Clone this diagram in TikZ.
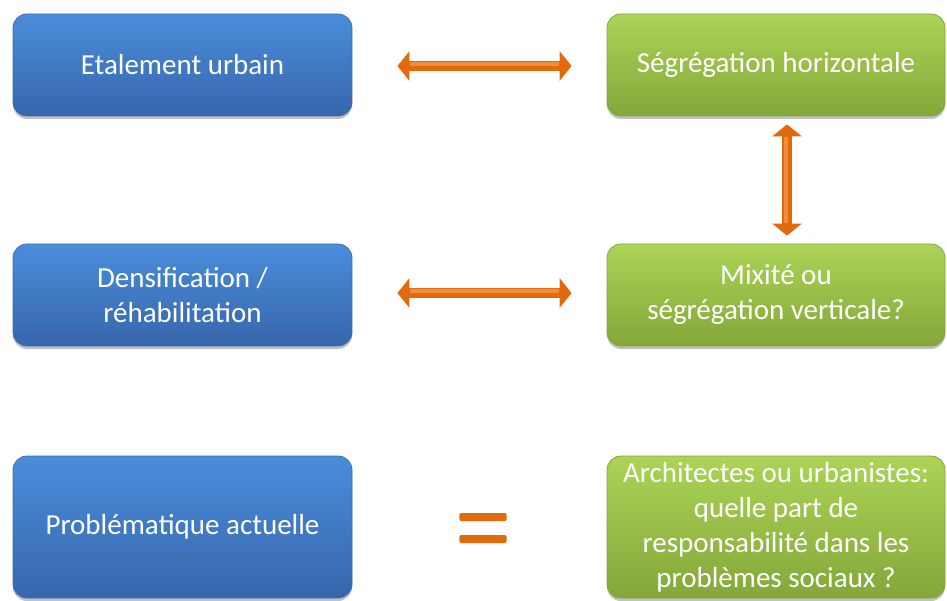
\documentclass[tikz,border=0pt]{standalone}
\usepackage{fontspec}
\setmainfont{Carlito}
\usetikzlibrary{arrows.meta,shadows}
\definecolor{bluetop}{RGB}{74,141,219}
\definecolor{bluebot}{RGB}{55,102,172}
\definecolor{blueedge}{RGB}{60,110,180}
\definecolor{greentop}{RGB}{172,212,86}
\definecolor{greenbot}{RGB}{132,167,58}
\definecolor{greenedge}{RGB}{130,165,60}
\definecolor{arrowc}{RGB}{226,106,12}
\definecolor{arrowhi}{RGB}{240,140,58}
\begin{document}
\begin{tikzpicture}[x=1pt,y=-1pt,
  box/.style={rounded corners=14pt, inner sep=0pt, text=white, align=center,
    font=\fontsize{29}{35}\selectfont, line width=0.8pt,
    drop shadow={shadow xshift=0pt, shadow yshift=-3pt, opacity=0.35, fill=black!70}},
  bluebox/.style={box, draw=blueedge, top color=bluetop, bottom color=bluebot, minimum width=339pt},
  greenbox/.style={box, draw=greenedge, top color=greentop, bottom color=greenbot, minimum width=338pt},
  dblarrow/.style={line width=10pt, draw=arrowc,
    {Triangle[width=29pt,length=12pt]}-{Triangle[width=29pt,length=12pt]}},
  hiline/.style={line width=4pt, draw=arrowhi},
  eqbar/.style={fill=arrowc, rounded corners=2pt}]
\useasboundingbox (0,0) rectangle (947,601);
\begin{scope}
\clip (0,0) rectangle (947,601);
\node[bluebox, minimum height=102pt] (b1) at (182.5,65) {Etalement urbain};
\node[bluebox, minimum height=102pt] (b2) at (182.5,295) {Densification /\\réhabilitation};
\node[bluebox, minimum height=142pt] (b3) at (182.5,527) {Problématique actuelle};
\node[greenbox, minimum height=102pt] (g1) at (776,65) {Ségrégation horizontale};
\node[greenbox, minimum height=102pt] (g2) at (776,295) {Mixité ou\\ségrégation verticale?};
\node[greenbox, minimum height=142pt] (g3) at (776,527) {Architectes ou urbanistes:\\quelle part de\\responsabilité dans les\\problèmes sociaux ?};
\end{scope}
% horizontal arrows
\draw[dblarrow] ([xshift=45pt,yshift=-1pt]b1.east) -- ([xshift=-35pt,yshift=-1pt]g1.west);
\draw[hiline] ([xshift=58pt,yshift=0.5pt]b1.east) -- ([xshift=-48pt,yshift=0.5pt]g1.west);
\draw[dblarrow] ([xshift=45pt,yshift=2pt]b2.east) -- ([xshift=-35pt,yshift=2pt]g2.west);
\draw[hiline] ([xshift=58pt,yshift=3.5pt]b2.east) -- ([xshift=-48pt,yshift=3.5pt]g2.west);
% vertical arrow
\draw[dblarrow] ([xshift=11pt,yshift=-8pt]g1.south) -- ([xshift=11pt,yshift=8pt]g2.north);
\draw[hiline] ([xshift=9.5pt,yshift=-21pt]g1.south) -- ([xshift=9.5pt,yshift=21pt]g2.north);
% equals sign
\node[minimum width=47pt, minimum height=30pt, inner sep=0pt] (eq) at (483,528) {};
\fill[eqbar] ([yshift=15pt]eq.west) rectangle ([yshift=7pt]eq.east);
\fill[eqbar] ([yshift=-7pt]eq.west) rectangle ([yshift=-15pt]eq.east);
\end{tikzpicture}
\end{document}
